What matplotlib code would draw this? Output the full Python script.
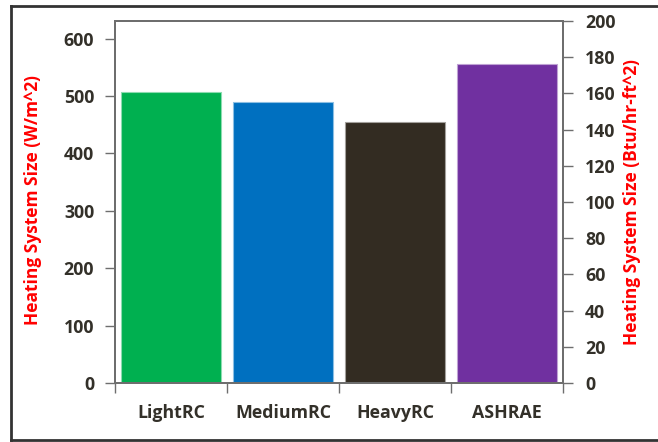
import matplotlib
matplotlib.use("Agg")
import matplotlib.pyplot as plt
from matplotlib.lines import Line2D
from matplotlib.colors import to_rgb

# Heating system size per construction case (W/m^2)
categories = ["LightRC", "MediumRC", "HeavyRC", "ASHRAE"]
heating_size_w_m2 = [507, 489, 455, 556]
bar_colors = ["#00B050", "#0070C0", "#332C22", "#7030A0"]

left_ticks = [0, 100, 200, 300, 400, 500, 600]
right_ticks = [0, 20, 40, 60, 80, 100, 120, 140, 160, 180, 200]

W_PER_BTU = 3.1546  # 1 Btu/hr-ft^2 in W/m^2
right_max = 200

plt.rcParams["font.family"] = ["Open Sans", "DejaVu Sans"]
plt.rcParams["font.weight"] = "bold"

fig = plt.figure(figsize=(6.58, 4.42), dpi=100)
fig.patch.set_facecolor("white")

ax = fig.add_axes([115 / 658, 1 - 383 / 442, (563 - 115) / 658, (383 - 21) / 442])

x = list(range(len(categories)))

def lighten(c, f=0.55):
    r, g, b = to_rgb(c)
    return (r + (1 - r) * f, g + (1 - g) * f, b + (1 - b) * f)

ax.bar(x, heating_size_w_m2, width=0.9, color=bar_colors,
       edgecolor=[lighten(c) for c in bar_colors], linewidth=0.8, zorder=2)

ax.set_xlim(-0.5, len(categories) - 0.5)
ax.set_ylim(0, right_max * W_PER_BTU)
ax.set_yticks(left_ticks)

frame_col = "#6E6E6E"
text_col = "#333029"
tick_fs = 12.8
for s in ax.spines.values():
    s.set_color(frame_col)
    s.set_linewidth(1.4)

ax.tick_params(axis="y", direction="out", length=7, width=1, color=frame_col,
               labelsize=tick_fs, labelcolor=text_col, pad=8)

# category labels centred, tick marks on category boundaries
ax.set_xticks(x)
ax.set_xticklabels(categories)
ax.tick_params(axis="x", which="major", length=0, pad=15,
               labelsize=tick_fs, labelcolor=text_col)
ax.set_xticks([i - 0.5 for i in range(len(categories) + 1)], minor=True)
ax.tick_params(axis="x", which="minor", direction="out", length=7, width=1,
               color=frame_col)

ax2 = ax.twinx()
ax2.set_ylim(0, right_max)
ax2.set_yticks(right_ticks)
for s in ax2.spines.values():
    s.set_color(frame_col)
    s.set_linewidth(1.4)
ax2.tick_params(axis="y", direction="out", length=7, width=1, color=frame_col,
                labelsize=tick_fs, labelcolor=text_col, pad=9)

# axis titles
fig.text(33 / 658, 1 - 200 / 442, "Heating System Size (W/m^2)", color="red",
         fontsize=12.5, fontweight="bold", rotation=90, ha="center", va="center")
fig.text(632 / 658, 1 - 202 / 442, "Heating System Size (Btu/hr-ft^2)", color="red",
         fontsize=12.5, fontweight="bold", rotation=90, ha="center", va="center")

# outer chart border
border_kw = dict(color="#333333", linewidth=2, transform=fig.transFigure)
x0, y0, y1 = 11 / 658, 1 - 440 / 442, 1 - 6 / 442
fig.add_artist(Line2D([x0, x0], [y0, y1], **border_kw))
fig.add_artist(Line2D([x0, 1.0], [y1, y1], **border_kw))
fig.add_artist(Line2D([x0, 1.0], [y0, y0], **border_kw))

fig.savefig("out.png", dpi=100)
